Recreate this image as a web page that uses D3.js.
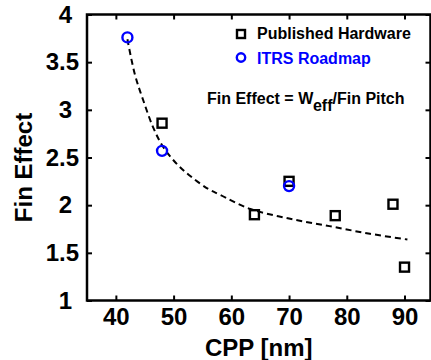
<!DOCTYPE html>
<html>
<head>
<meta charset="utf-8">
<script src="https://cdn.jsdelivr.net/npm/d3@7"></script>
<style>
  body { margin: 0; background: #fff; }
  text { font-family: "Liberation Sans", Arial, sans-serif; font-weight: bold; }
</style>
</head>
<body>
<svg width="431" height="360"></svg>
<script>
// published hardware points
var publishedCpp = [48, 64, 70, 78, 88, 90];
var publishedFin = [2.86, 1.90, 2.25, 1.89, 2.01, 1.35];

// ITRS roadmap points
var itrsCpp = [42, 48, 70];
var itrsFin = [3.76, 2.57, 2.2];

// dashed fit curve
var fitCpp = [42, 43.3, 44.8, 46.5, 48.2, 50.6, 53, 56, 58, 63.3, 70, 77, 84, 90.5];
var fitFin = [3.74, 3.37, 3.09, 2.81, 2.61, 2.43, 2.30, 2.17, 2.11, 1.96, 1.86, 1.78, 1.70, 1.64];

var xTicks = [40, 50, 60, 70, 80, 90];
var yTicks = [1, 1.5, 2, 2.5, 3, 3.5, 4];

var svg = d3.select("svg"),
  plotLeft = 87, plotRight = 430.5, plotTop = 14.5, plotBottom = 300.5;

var x = d3.scaleLinear().domain([35, 94.5]).range([plotLeft, plotRight]);
var y = d3.scaleLinear().domain([1, 4]).range([plotBottom, plotTop]);

var blue = "#0000ff";

// bottom axis with labels
var xAxis = svg.append("g")
  .attr("transform", "translate(0," + plotBottom + ")")
  .call(d3.axisBottom(x).tickValues(xTicks).tickSizeInner(-5).tickSizeOuter(0).tickPadding(7));
xAxis.selectAll("text").style("font-size", "24px").attr("fill", "#000");

// left axis with labels
var yAxis = svg.append("g")
  .attr("transform", "translate(" + plotLeft + ",0)")
  .call(d3.axisLeft(y).tickValues(yTicks).tickSizeInner(-5).tickSizeOuter(0).tickPadding(8)
    .tickFormat(function(d) { return d3.format("")(d); }));
yAxis.selectAll("text")
  .style("font-size", "24px")
  .attr("fill", "#000")
  .attr("dx", function(d) { return d % 1 == 0 ? -7 : 0; });

// mirrored ticks, top and right
svg.append("g")
  .attr("transform", "translate(0," + plotTop + ")")
  .call(d3.axisTop(x).tickValues(xTicks).tickSizeInner(-5).tickSizeOuter(0).tickFormat(""));
svg.append("g")
  .attr("transform", "translate(" + plotRight + ",0)")
  .call(d3.axisRight(y).tickValues(yTicks).tickSizeInner(-5).tickSizeOuter(0).tickFormat(""));

svg.selectAll(".domain").remove();
svg.selectAll(".tick line").attr("stroke", "#000").attr("stroke-width", 2);

// frame
svg.append("rect")
  .attr("x", plotLeft).attr("y", plotTop)
  .attr("width", plotRight - plotLeft).attr("height", plotBottom - plotTop)
  .attr("fill", "none").attr("stroke", "#000").attr("stroke-width", 2.5);

// fit curve
var fit = fitCpp.map(function(d, i) { return [d, fitFin[i]]; });
svg.append("path")
  .datum(fit)
  .attr("fill", "none")
  .attr("stroke", "#000")
  .attr("stroke-width", 2)
  .attr("stroke-dasharray", "6,4")
  .attr("d", d3.line()
    .x(function(d) { return x(d[0]); })
    .y(function(d) { return y(d[1]); })
    .curve(d3.curveCatmullRom));

// squares
svg.append("g").selectAll("rect")
  .data(publishedCpp)
  .enter().append("rect")
  .attr("x", function(d) { return x(d) - 4.5; })
  .attr("y", function(d, i) { return y(publishedFin[i]) - 4.5; })
  .attr("width", 9).attr("height", 9)
  .attr("fill", "none").attr("stroke", "#000").attr("stroke-width", 2.4);

// circles
svg.append("g").selectAll("circle")
  .data(itrsCpp)
  .enter().append("circle")
  .attr("cx", function(d) { return x(d); })
  .attr("cy", function(d, i) { return y(itrsFin[i]); })
  .attr("r", 5)
  .attr("fill", "none").attr("stroke", blue).attr("stroke-width", 2.4);

// legend
svg.append("rect")
  .attr("x", 237).attr("y", 30).attr("width", 8).attr("height", 8)
  .attr("fill", "none").attr("stroke", "#000").attr("stroke-width", 2.4);
svg.append("text").attr("x", 257).attr("y", 38.5)
  .style("font-size", "16px").attr("fill", "#000").text("Published Hardware");
svg.append("circle")
  .attr("cx", 241).attr("cy", 57.5).attr("r", 4.2)
  .attr("fill", "none").attr("stroke", blue).attr("stroke-width", 2.4);
svg.append("text").attr("x", 257).attr("y", 63.5)
  .style("font-size", "16px").attr("fill", blue).text("ITRS Roadmap");

// formula
var formula = svg.append("text").attr("x", 207).attr("y", 103.5)
  .style("font-size", "16px").attr("fill", "#000");
formula.append("tspan").text("Fin Effect = W");
formula.append("tspan").attr("dy", 7).text("eff");
formula.append("tspan").attr("dy", -7).text("/Fin Pitch");

// axis titles
svg.append("text")
  .attr("x", (plotLeft + plotRight) / 2).attr("y", 356)
  .attr("text-anchor", "middle")
  .style("font-size", "24px")
  .text("CPP [nm]");

svg.append("text")
  .attr("transform", "translate(32," + ((plotTop + plotBottom) / 2 + 10) + ") rotate(-90)")
  .attr("text-anchor", "middle")
  .style("font-size", "24px")
  .text("Fin Effect");
</script>
</body>
</html>
